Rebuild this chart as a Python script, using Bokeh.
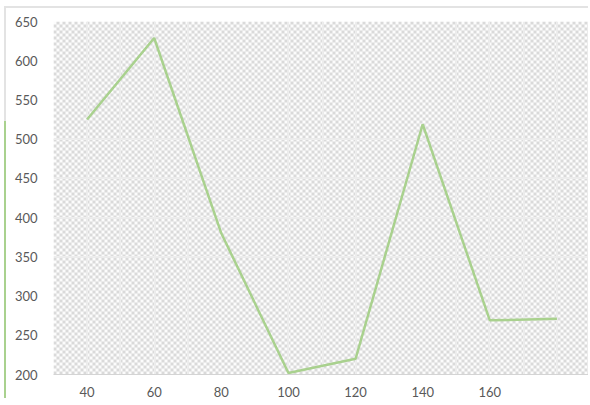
import numpy as np
from bokeh.plotting import figure
from bokeh.models import FixedTicker, Range1d
from bokeh.embed import file_html
from bokeh.resources import INLINE

# Data
x_values = [40, 60, 80, 100, 120, 140, 160, 180]
y_values = [525, 629, 380, 202, 220, 519, 269, 271]
x_tick_labels = [40, 60, 80, 100, 120, 140, 160]
y_tick_labels = [200, 250, 300, 350, 400, 450, 500, 550, 600, 650]

X0, X1 = 30, 190
Y0, Y1 = 200, 650

p = figure(width=584, height=392, output_backend="svg", toolbar_location=None,
           x_range=Range1d(X0, X1), y_range=Range1d(Y0, Y1),
           min_border_left=47, min_border_right=0, min_border_top=13,
           min_border_bottom=26)
p.outline_line_color = None
p.background_fill_color = "white"
p.border_fill_color = "white"
p.styles = {"border-style": "solid",
            "border-width": "2px 0 0 2px",
            "border-image": "linear-gradient(to bottom, #e3e3e3 0%, #e3e3e3 29%, #a9d18e 29%, #a9d18e 100%) 1",
            "margin-left": "4px", "margin-top": "6px"}

# checkered plot-area texture
rows, cols = 118, 179
ii, jj = np.indices((rows, cols))
img = np.empty((rows, cols), dtype=np.uint32)
view = img.view(dtype=np.uint8).reshape((rows, cols, 4))
chk = ((ii + jj) % 2 == 0)
view[..., 0] = np.where(chk, 218, 252)
view[..., 1] = np.where(chk, 218, 252)
view[..., 2] = np.where(chk, 218, 252)
view[..., 3] = 255
bg = p.image_rgba(image=[img], x=X0, y=Y0, dw=X1 - X0, dh=Y1 - Y0)
bg.level = "image"

p.line(x_values, y_values, line_color="#a9d18e", line_width=2.5)

p.xaxis.ticker = FixedTicker(ticks=x_tick_labels)
p.yaxis.ticker = FixedTicker(ticks=y_tick_labels)
p.xgrid.ticker = FixedTicker(ticks=list(range(40, 190, 10)))
p.ygrid.ticker = FixedTicker(ticks=y_tick_labels)
for g in (p.xgrid, p.ygrid):
    g.grid_line_color = "#ededed"
    g.grid_line_width = 1

for ax in (p.xaxis, p.yaxis):
    ax.major_tick_line_color = None
    ax.minor_tick_line_color = None
    ax.major_label_text_font = "Lato"
    ax.major_label_text_font_size = "13px"
    ax.major_label_text_color = "#595959"
p.xaxis.axis_line_color = "#d4d4d4"
p.yaxis.axis_line_color = None
p.xaxis.major_label_standoff = 6
p.yaxis.major_label_standoff = 10

open("out.html", "w").write(file_html(p, INLINE))
